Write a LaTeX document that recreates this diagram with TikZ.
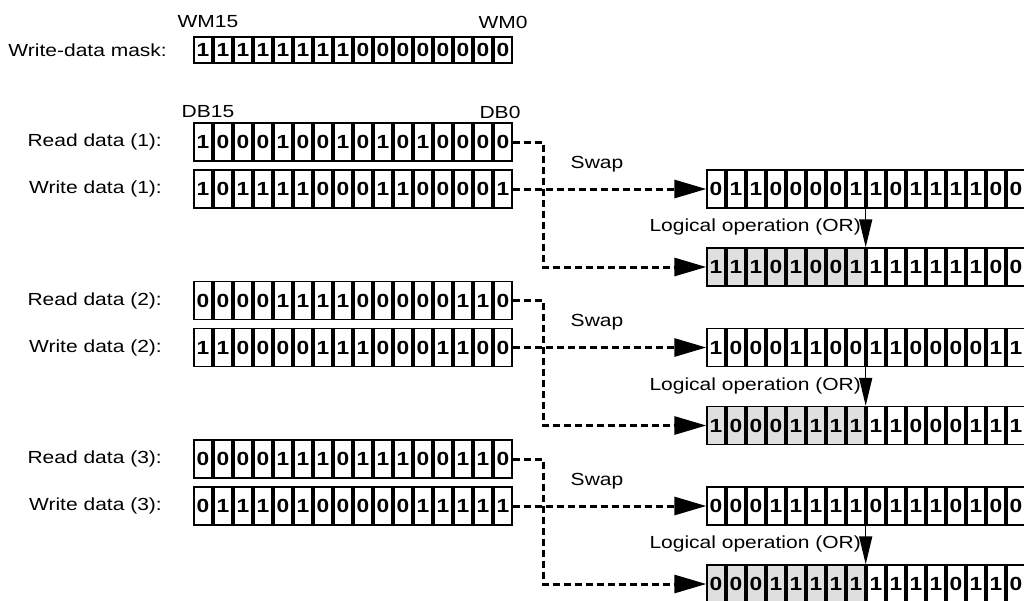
\documentclass[tikz,border=0pt]{standalone}
\usepackage{fontspec}
\setmainfont{Liberation Sans}[FakeStretch=1.2]
\usepackage{tikz}
\usetikzlibrary{arrows.meta,positioning}

% one row of 16 bit cells: name, x of first cell, y, bits, number of shaded cells, style
\newcommand{\bitrow}[6]{%
  \foreach \b [count=\i, evaluate=\i as \shade using {int((\i<#5+1)*25)}] in {#4} {
    \node[#6, fill=gray!\shade] (#1-\i) at ({#2+(\i-1)*20},#3) {\b};
  }%
}

\tikzset{
  bit/.style={draw, line width=1.4pt, minimum width=18pt, minimum height=38pt, inner sep=0pt,
    font=\fontsize{19}{19}\selectfont\bfseries},
  maskbit/.style={bit, minimum height=26pt},
  lbl/.style={inner sep=0pt, font=\fontsize{17.5}{20}\selectfont},
  dashlink/.style={line width=3pt, dash pattern=on 7pt off 4pt, -{Triangle[length=32pt,width=18pt]}},
  orarrow/.style={line width=1.4pt, -{Triangle[length=28pt,width=13pt]}},
}

\begin{document}
\begin{tikzpicture}[x=1pt,y=-1pt]
	\useasboundingbox (0,0) rectangle (1024,600);

	% mask
	\node[lbl, anchor=east] (masklbl) at (167,50) {Write-data mask:};
	\node[lbl] (wm15) at (208,22) {WM15};
	\node[lbl] (wm0) at (503,22) {WM0};
	\bitrow{mask}{203}{50}{1,1,1,1,1,1,1,1,0,0,0,0,0,0,0,0}{0}{maskbit}
	\node[lbl] (db15) at (208,112) {DB15};
	\node[lbl] (db0) at (500,112) {DB0};

	% access (1)
	\node[lbl, anchor=east] (rdlbl1) at (162,142) {Read data (1):};
	\node[lbl, anchor=east] (wrlbl1) at (162,189) {Write data (1):};
	\bitrow{rd1}{203}{142}{1,0,0,0,1,0,0,1,0,1,0,1,0,0,0,0}{0}{bit}
	\bitrow{wr1}{203}{189}{1,0,1,1,1,1,0,0,0,1,1,0,0,0,0,1}{0}{bit}
	\bitrow{sw1}{716}{189}{0,1,1,0,0,0,0,1,1,0,1,1,1,1,0,0}{0}{bit}
	\bitrow{res1}{716}{267}{1,1,1,0,1,0,0,1,1,1,1,1,1,1,0,0}{8}{bit}
	\node[lbl] (swap1) at (597,164) {Swap};
	\node[lbl, anchor=east] (or1) at (861,227) {Logical operation (OR)};
	\coordinate (turn1) at (543,142);
	\draw[dashlink] (rd1-16.east) -| (turn1 |- res1-1.west) -- (res1-1.west);
	\draw[dashlink] (wr1-16.east) -- (sw1-1.west);
	\draw[orarrow] (sw1-8.south east) -- (res1-8.north east);

	% access (2)
	\node[lbl, anchor=east] (rdlbl2) at (162,300.5) {Read data (2):};
	\node[lbl, anchor=east] (wrlbl2) at (162,347.5) {Write data (2):};
	\bitrow{rd2}{203}{300.5}{0,0,0,0,1,1,1,1,0,0,0,0,0,1,1,0}{0}{bit}
	\bitrow{wr2}{203}{347.5}{1,1,0,0,0,0,1,1,1,0,0,0,1,1,0,0}{0}{bit}
	\bitrow{sw2}{716}{347.5}{1,0,0,0,1,1,0,0,1,1,0,0,0,0,1,1}{0}{bit}
	\bitrow{res2}{716}{425.5}{1,0,0,0,1,1,1,1,1,1,0,0,0,1,1,1}{8}{bit}
	\node[lbl] (swap2) at (597,322.5) {Swap};
	\node[lbl, anchor=east] (or2) at (861,385.5) {Logical operation (OR)};
	\coordinate (turn2) at (543,300.5);
	\draw[dashlink] (rd2-16.east) -| (turn2 |- res2-1.west) -- (res2-1.west);
	\draw[dashlink] (wr2-16.east) -- (sw2-1.west);
	\draw[orarrow] (sw2-8.south east) -- (res2-8.north east);

	% access (3)
	\node[lbl, anchor=east] (rdlbl3) at (162,459) {Read data (3):};
	\node[lbl, anchor=east] (wrlbl3) at (162,506) {Write data (3):};
	\bitrow{rd3}{203}{459}{0,0,0,0,1,1,1,0,1,1,1,0,0,1,1,0}{0}{bit}
	\bitrow{wr3}{203}{506}{0,1,1,1,0,1,0,0,0,0,0,1,1,1,1,1}{0}{bit}
	\bitrow{sw3}{716}{506}{0,0,0,1,1,1,1,1,0,1,1,1,0,1,0,0}{0}{bit}
	\bitrow{res3}{716}{584}{0,0,0,1,1,1,1,1,1,1,1,1,0,1,1,0}{8}{bit}
	\node[lbl] (swap3) at (597,481) {Swap};
	\node[lbl, anchor=east] (or3) at (861,544) {Logical operation (OR)};
	\coordinate (turn3) at (543,459);
	\draw[dashlink] (rd3-16.east) -| (turn3 |- res3-1.west) -- (res3-1.west);
	\draw[dashlink] (wr3-16.east) -- (sw3-1.west);
	\draw[orarrow] (sw3-8.south east) -- (res3-8.north east);
\end{tikzpicture}
\end{document}
